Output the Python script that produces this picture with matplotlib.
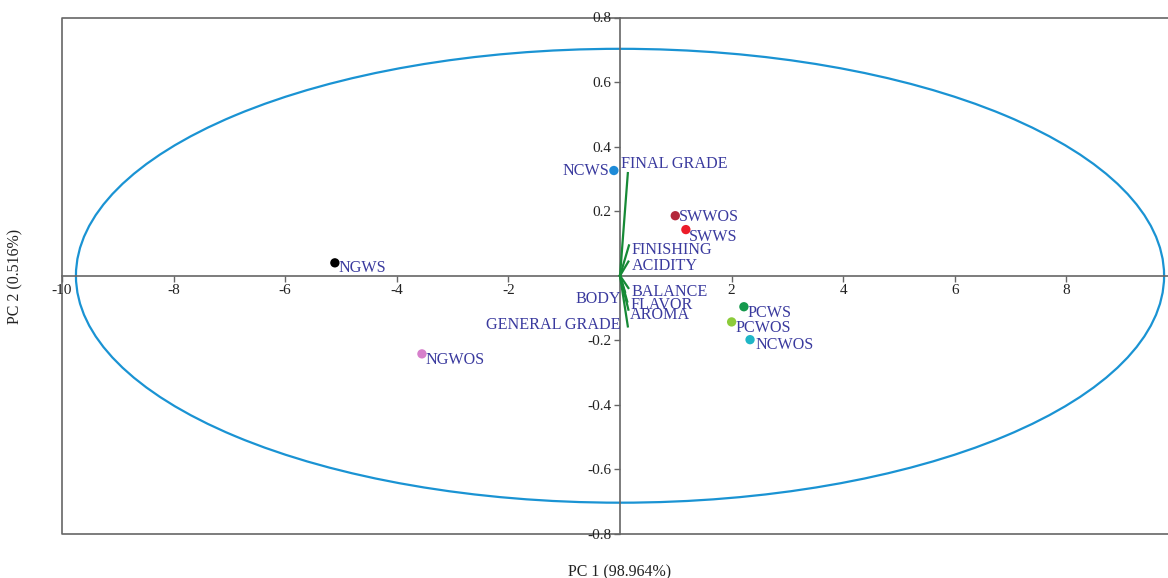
import matplotlib.pyplot as plt
import numpy as np
from matplotlib.patches import Ellipse

plt.rcParams.update({
    "font.family": "serif",
    "font.serif": ["Liberation Serif", "DejaVu Serif"],
    "font.size": 11,
    "axes.unicode_minus": False,
})

# sample scores (PC1, PC2)
samples = ['NGWS', 'NGWOS', 'NCWS', 'SWWOS', 'SWWS', 'PCWS', 'PCWOS', 'NCWOS']
pc1 = [-5.11, -3.55, -0.11, 0.99, 1.18, 2.22, 2.00, 2.33]
pc2 = [0.040, -0.242, 0.326, 0.186, 0.143, -0.096, -0.143, -0.198]
sample_colors = ['#000000', '#d67fcb', '#1e8bd8', '#b3283a', '#ec1c2a',
                 '#14994c', '#8ccb3a', '#1fb6c6']

# attribute loadings
attributes = ['FINAL GRADE', 'FINISHING', 'ACIDITY', 'BALANCE', 'BODY',
              'FLAVOR', 'AROMA', 'GENERAL GRADE']
load1 = [0.14, 0.16, 0.15, 0.15, 0.09, 0.13, 0.15, 0.14]
load2 = [0.318, 0.094, 0.044, -0.038, -0.05, -0.08, -0.105, -0.157]

# confidence ellipse semi-axes
ell_w, ell_h = 9.75, 0.703

xticks = [-10, -8, -6, -4, -2, 2, 4, 6, 8]
yticks = [-0.8, -0.6, -0.4, -0.2, 0.2, 0.4, 0.6, 0.8]

# label offsets in pixels (dx, dy) and alignment
sample_offsets = {
    'NGWS': (4, -5, 'left'), 'NGWOS': (4, -6, 'left'), 'NCWS': (-5, 0, 'right'),
    'SWWOS': (4, -1, 'left'), 'SWWS': (3, -7, 'left'), 'PCWS': (4, -6, 'left'),
    'PCWOS': (4, -6, 'left'), 'NCWOS': (5, -5, 'left'),
}
attr_offsets = {
    'FINAL GRADE': (-7, 9, 'left'), 'FINISHING': (3, -5, 'left'),
    'ACIDITY': (3, -4, 'left'), 'BALANCE': (3, -4, 'left'),
    'BODY': (-4, -7, 'right'), 'FLAVOR': (3, -3, 'left'),
    'AROMA': (1, -5, 'left'), 'GENERAL GRADE': (-7, 1, 'right'),
}

text_color = '#3a3a9e'
axis_color = '#666666'
label_size = 11.6

fig = plt.figure(figsize=(11.68, 5.78), dpi=100)
ax = fig.add_axes([62 / 1168, 44 / 578, 1 - 62 / 1168, (534 - 17.5) / 578])
ax.set_xlim(-10, 9.82)
ax.set_ylim(-0.8, 0.8)

# outer frame (left, top, bottom)
ax.plot([1, 0, 0, 1], [1, 1, 0, 0], transform=ax.transAxes, color=axis_color,
        lw=1.2, clip_on=False, zorder=1)

# centered axes
for side in ['right', 'top']:
    ax.spines[side].set_visible(False)
ax.spines['left'].set_position(('data', 0))
ax.spines['bottom'].set_position(('data', 0))
ax.spines['left'].set_color(axis_color)
ax.spines['bottom'].set_color(axis_color)
ax.spines['left'].set_linewidth(1.2)
ax.spines['bottom'].set_linewidth(1.2)
ax.set_xticks(xticks)
ax.set_yticks(yticks)
ax.set_xticklabels([str(t) for t in xticks])
ax.set_yticklabels([f'{t:.1f}' for t in yticks])
ax.tick_params(direction='out', length=4, width=1, color=axis_color,
               labelsize=11, pad=2, labelcolor='#222222')

ax.add_patch(Ellipse((0, 0), 2 * ell_w, 2 * ell_h, fill=False,
                     edgecolor='#1a93d3', lw=1.6, zorder=2))

for name, x, y in zip(attributes, load1, load2):
    ax.plot([0, x], [0, y], color='#168a36', lw=1.6, zorder=3)
    dx, dy, ha = attr_offsets[name]
    ax.annotate(name, (x, y), xytext=(dx, dy), textcoords='offset pixels',
                ha=ha, va='center', color=text_color, fontsize=label_size, zorder=5)

ax.scatter(pc1, pc2, s=45, c=sample_colors, zorder=4, linewidths=0)
for name, x, y in zip(samples, pc1, pc2):
    dx, dy, ha = sample_offsets[name]
    ax.annotate(name, (x, y), xytext=(dx, dy), textcoords='offset pixels',
                ha=ha, va='center', color=text_color, fontsize=label_size, zorder=5)

fig.text(620 / 1168, 1 - 572 / 578, 'PC 1 (98.964%)', ha='center', va='center',
         fontsize=11.5, color='#222222')
fig.text(15 / 1168, 1 - 276 / 578, 'PC 2 (0.516%)', ha='center', va='center',
         rotation=90, fontsize=11.5, color='#222222')

fig.savefig('out.png', dpi=100)
